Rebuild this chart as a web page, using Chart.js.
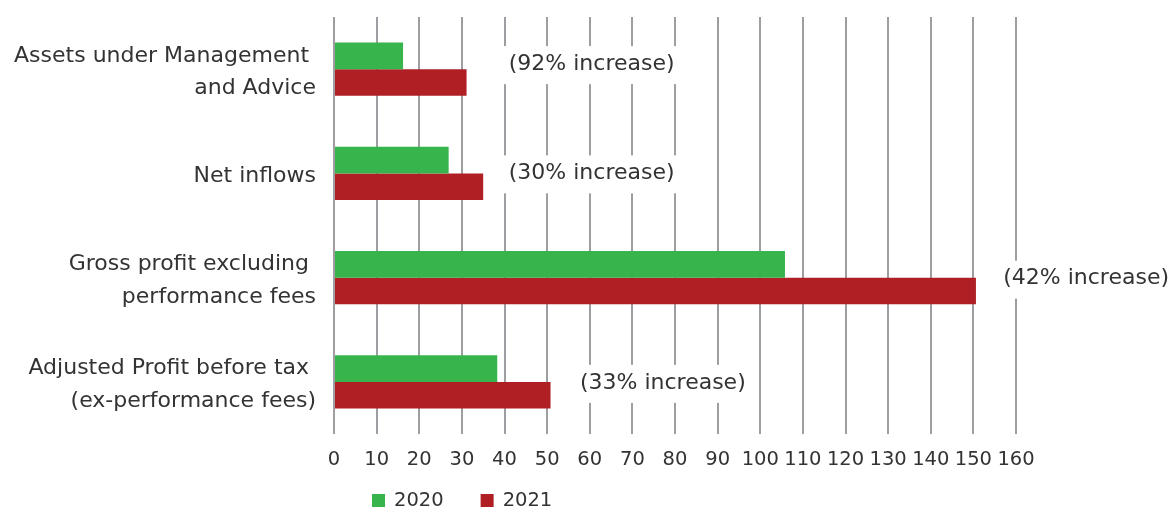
<!DOCTYPE html>
<html>
<head>
<meta charset="utf-8">
<script src="https://cdn.jsdelivr.net/npm/chart.js@4.4.1/dist/chart.umd.min.js"></script>
<style>
  html, body { margin: 0; padding: 0; background: #ffffff; }
  #wrap { width: 1176px; height: 509px; position: relative; }
</style>
</head>
<body>
<div id="wrap"><canvas id="chart"></canvas></div>
<script>
// Categories (multi-line y labels; trailing spaces keep the original right edge)
const categories = [
  ["Assets under Management ", "and Advice"],
  ["Net inflows"],
  ["Gross profit excluding ", "performance fees"],
  ["Adjusted Profit before tax ", "(ex-performance fees)"]
];
const seriesNames = ["2020", "2021"];
const values2020 = [16.2, 26.9, 105.8, 38.3];
const values2021 = [31.1, 35.0, 150.6, 50.8];
const increaseLabels = ["(92% increase)", "(30% increase)", "(42% increase)", "(33% increase)"];
const axisMin = 0;
const axisMax = 160;
const axisStep = 10;

// Where each increase note starts (axis units) and its small vertical nudge (px)
const noteStartValue = [41, 41, 157, 57.7];
const noteNudge = [-4, 1, 2, 2];

const GREEN = '#37b44b';
const RED = '#b01f24';
const TEXT = '#333333';
const GRID = '#9d9da2';
const FONT = '"DejaVu Sans", sans-serif';

// White-backed notes next to each category
const increaseNotes = {
  id: 'increaseNotes',
  afterDatasetsDraw(chart) {
    const { ctx, scales: { x, y } } = chart;
    ctx.save();
    ctx.font = '22px ' + FONT;
    ctx.textBaseline = 'middle';
    ctx.textAlign = 'left';
    increaseLabels.forEach((t, i) => {
      const left = x.getPixelForValue(noteStartValue[i]);
      const cy = y.getPixelForValue(i) + noteNudge[i];
      const w = ctx.measureText(t).width;
      ctx.fillStyle = '#ffffff';
      ctx.fillRect(left - 9, cy - 19, w + 18, 38);
      ctx.fillStyle = TEXT;
      ctx.fillText(t, left, cy - 1);
    });
    ctx.restore();
  }
};

// Compact legend under the axis
const bottomLegend = {
  id: 'bottomLegend',
  afterDraw(chart) {
    const { ctx } = chart;
    ctx.save();
    ctx.font = '19.5px ' + FONT;
    ctx.textBaseline = 'middle';
    ctx.textAlign = 'left';
    let xPos = 372;
    const cy = 500.5;
    chart.data.datasets.forEach(ds => {
      ctx.fillStyle = ds.backgroundColor;
      ctx.fillRect(xPos, cy - 6.5, 13, 13);
      ctx.fillStyle = TEXT;
      ctx.fillText(ds.label, xPos + 22, cy);
      xPos += 22 + ctx.measureText(ds.label).width + 37;
    });
    ctx.restore();
  }
};

new Chart(document.getElementById('chart'), {
  type: 'bar',
  data: {
    labels: categories,
    datasets: [
      { label: seriesNames[0], data: values2020, backgroundColor: GREEN, borderWidth: 0 },
      { label: seriesNames[1], data: values2021, backgroundColor: RED, borderWidth: 0 }
    ]
  },
  options: {
    indexAxis: 'y',
    responsive: true,
    maintainAspectRatio: false,
    animation: false,
    layout: { padding: { top: 17, right: 160, bottom: 0, left: 0 } },
    datasets: { bar: { barPercentage: 1.0, categoryPercentage: 0.51 } },
    plugins: {
      legend: { display: false },
      tooltip: { enabled: false },
      title: { display: false }
    },
    scales: {
      x: {
        min: axisMin,
        max: axisMax,
        ticks: {
          stepSize: axisStep,
          color: TEXT,
          font: { family: FONT, size: 19.5 },
          padding: 14,
          maxRotation: 0,
          autoSkip: false
        },
        grid: { color: GRID, lineWidth: 2, drawTicks: false },
        border: { display: false },
        afterFit(scale) {
          scale.height = 75;
          scale.paddingLeft = 0;
          scale.paddingRight = 0;
        }
      },
      y: {
        ticks: {
          color: TEXT,
          font: { family: FONT, size: 22, lineHeight: 1.47 },
          padding: 18,
          labelOffset: 3
        },
        grid: { display: false, drawTicks: false },
        border: { display: false },
        afterFit(scale) {
          scale.width = 334;
          scale.paddingTop = 0;
          scale.paddingBottom = 0;
        }
      }
    }
  },
  plugins: [increaseNotes, bottomLegend]
});
</script>
</body>
</html>
